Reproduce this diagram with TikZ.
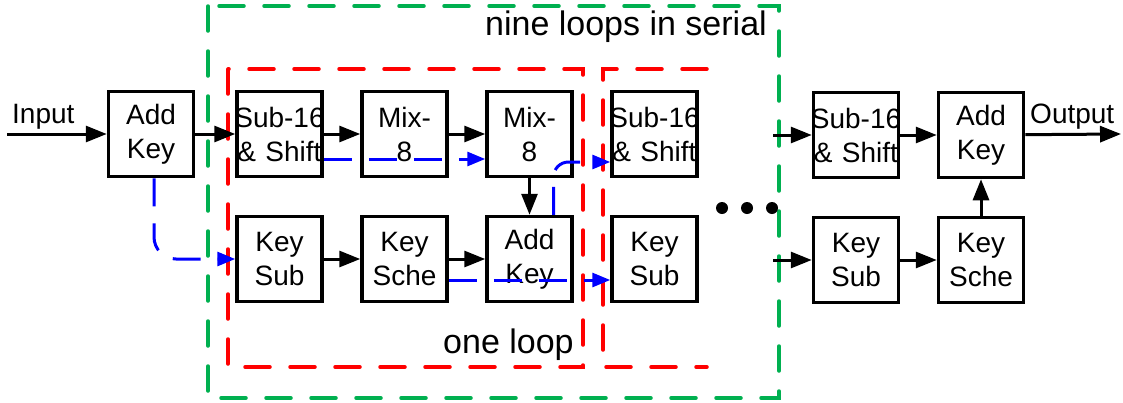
\documentclass[tikz,border=0pt]{standalone}
\usepackage{fontspec}
\setmainfont{Liberation Sans}
\usepackage{xcolor}
\usepackage{tikz}
\usetikzlibrary{arrows.meta, positioning}

\definecolor{loopgreen}{RGB}{0,176,80}

\begin{document}
\begin{tikzpicture}[
    x=1pt, y=-1pt,
    node distance = 36.5pt and 36.5pt,
    box/.style = {
        rectangle, draw=black, line width=3.5pt,
        text width=85pt, minimum width=85pt, minimum height=85pt,
        font=\fontsize{28}{34}\selectfont, align=center,
        inner sep=0pt
    },
    lbl/.style    = {inner sep=0pt, font=\fontsize{28}{34}\selectfont},
    biglbl/.style = {inner sep=0pt, font=\fontsize{34}{40}\selectfont},
    arr/.style    = {-{Triangle[length=21pt,width=16pt]}, line width=3pt},
    keyflow/.style = {
        draw=blue, line width=3pt, dash pattern=on 28pt off 17pt,
        -{Triangle[length=18pt,width=14pt]}
    },
    frame/.style  = {line width=3.5pt, line cap=round, dash pattern=on 25pt off 20pt}
]
\useasboundingbox (0,0) rectangle (1123,402);

%% Frames
\draw[frame, draw=loopgreen] (208,6) rectangle (779,398);
\draw[frame, draw=red] (228,69) rectangle (583,367);
\draw[frame, draw=red] (707,69) -- (603,69) -- (603,367) -- (707,367);

%% Labels
\node[biglbl, anchor=base east] (nine) at (767,35) {nine loops in serial};
\node[biglbl, anchor=base west] (one)  at (443,353) {one loop};
\node[lbl, anchor=base west] (inl)  at (12,123)   {Input};
\node[lbl, anchor=base west] (outl) at (1030,123) {Output};

%% First stage
\node[box] (ak1) at (151,134) {Add\\Key};

%% One loop
\node[box, right=40pt of ak1] (ss1) {\makebox[0pt]{Sub-16}\\\& Shift};
\node[box, right=of ss1]      (mx1) {Mix-\\8};
\node[box, right=of mx1]      (mx2) {Mix-\\8};
\node[box, below=of ss1]      (ks1) {Key\\Sub};
\node[box, below=of mx1]      (sc1) {Key\\Sche};
\node[box, below=of mx2]      (ak2) {Add\\Key};

%% Next loop
\node[box, right=of mx2]      (ss2) {\makebox[0pt]{Sub-16}\\\& Shift};
\node[box, below=of ss2]      (ks2) {Key\\Sub};

%% Last stage
\node[box] (ak3) at (981,135) {Add\\Key};
\node[box, left=of ak3]       (ss3) {\makebox[0pt]{Sub-16}\\\& Shift};
\node[box, below=of ak3]      (sc3) {Key\\Sche};
\node[box, below=of ss3]      (ks3) {Key\\Sub};

%% Free ends
\coordinate (in)   at (7,134);
\coordinate (out)  at (1121,134);
\coordinate (dtop) at (773,135);
\coordinate (dbot) at (773,260);

%% Dots
\fill (722,208) circle (6pt);
\fill (747,208) circle (6pt);
\fill (772,208) circle (6pt);

%% Arrows
\draw[arr] (in) -- (ak1);
\draw[arr] (ak1) -- (ss1);
\draw[arr] (ss1) -- (mx1);
\draw[arr] (mx1) -- (mx2);
\draw[arr] (mx2) -- (ak2);
\draw[arr] (ks1) -- (sc1);
\draw[arr] (sc1) -- (ak2);
\draw[arr] (dtop) -- (ss3);
\draw[arr] (dbot) -- (ks3);
\draw[arr] (ss3) -- (ak3);
\draw[arr] (ks3) -- (sc3);
\draw[arr] (sc3) -- (ak3);
\draw[arr] (ak3) -- (out);

%% Blue dashed flows
\draw[keyflow, rounded corners=22pt] ([xshift=3pt]ak1.south) |- (ks1.west);
\draw[keyflow] ([yshift=-25pt]ss1.east) -- ([yshift=-25pt]mx2.west);
\draw[keyflow, rounded corners=15pt] ([xshift=24pt]ak2.north) |- ([yshift=-28pt]ss2.west);
\draw[keyflow] ([yshift=-21pt]sc1.east) -- ([yshift=-21pt]ks2.west);

\end{tikzpicture}
\end{document}
